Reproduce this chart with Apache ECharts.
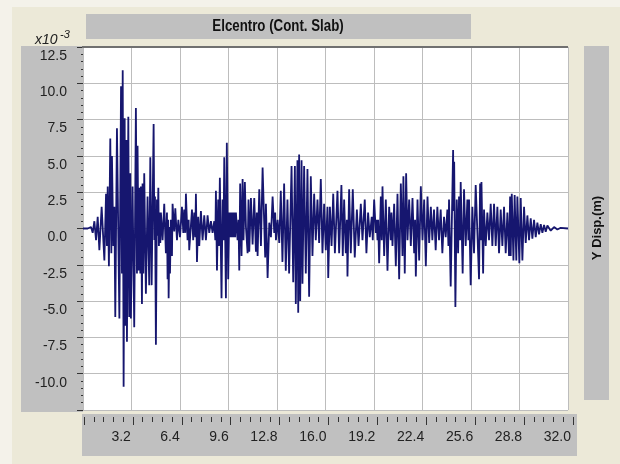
<!DOCTYPE html>
<html>
<head>
<meta charset="utf-8">
<script src="https://cdn.jsdelivr.net/npm/echarts@6/dist/echarts.min.js"></script>
<style>html,body{margin:0;padding:0;background:#F4F2EA}#c{width:620px;height:464px}</style>
</head>
<body>
<div id="c"></div>
<script>
// Time axis (s) and tick labels
const xTicks = [3.2, 6.4, 9.6, 12.8, 16.0, 19.2, 22.4, 25.6, 28.8, 32.0];
const yTicks = [12.5, 10.0, 7.5, 5.0, 2.5, 0.0, -2.5, -5.0, -7.5, -10.0];
const titleText = 'Elcentro (Cont. Slab)';
const yName = 'Y Disp.(m)';

// Displacement trace [time s, value x10^-3 m]
const segA = [[0,0],[0.31,0],[0.53,0.1],[0.64,-0.3],[0.75,0.5],[0.86,-0.8],[0.97,0.8],[1.08,-1.5],[1.23,1.5],[1.41,-2.2],[1.52,2.4],[1.58,-1.2],[1.63,2.9],[1.71,-2.6],[1.80,6.2],[1.87,-1.7],[1.91,5.0],[2.00,-1.2],[2.07,1.5],[2.13,-6.1],[2.24,6.9],[2.40,-6.2],[2.51,9.8],[2.57,-3.1],[2.62,10.9],[2.68,-10.9],[2.75,7.6],[2.79,-6.7],[2.86,6.1],[2.90,-7.8],[2.99,7.7],[3.05,-6.1],[3.12,3.8],[3.16,-6.2],[3.27,2.9],[3.38,-6.8],[3.49,8.3],[3.56,-3.1],[3.60,5.7],[3.67,-2.9],[3.71,2.8],[3.78,-3.1],[3.82,2.9],[3.89,-5.2],[3.93,3.1],[3.98,-3.1],[4.04,3.8],[4.15,-4.5],[4.26,2.2],[4.37,-3.9],[4.44,4.9],[4.53,-3.9],[4.66,7.2],[4.71,-0.8],[4.75,2.2],[4.81,-8.0],[4.88,2.0],[4.92,-0.5],[4.97,2.8],[5.01,-1.2],[5.05,1.1],[5.10,-1.0],[5.14,1.1],[5.25,-0.8],[5.36,1.7],[5.47,-1.7],[5.54,1.1],[5.58,-3.5],[5.62,0.6],[5.65,-4.8],[5.71,0.1],[5.74,-3.1],[5.80,0.6],[5.87,-1.9],[5.91,1.7],[6.02,-0.2],[6.09,1.4],[6.20,-0.8],[6.29,0.6],[6.40,-0.6],[6.53,1.5],[6.62,-0.3],[6.68,1.3],[6.75,-0.3],[6.79,2.4],[6.90,-0.8],[6.97,0.6],[7.01,-1.5],[7.19,1.3],[7.27,-0.8],[7.34,1.1],[7.41,-0.6],[7.45,2.4],[7.52,-2.3],[7.60,0.8],[7.67,-1.2],[7.78,1.2],[7.89,-0.8]];
const segB = [[8.00,0.9],[8.11,-0.8],[8.22,0.9],[8.33,-0.3],[8.44,0.5],[8.55,-0.3],[8.66,0.5],[8.73,-0.8],[8.77,2.6],[8.84,-2.9],[8.92,2.0],[8.97,-1.2],[9.03,3.5],[9.14,-4.8],[9.21,2.0],[9.27,-0.8],[9.32,4.9],[9.43,-4.8],[9.49,5.9],[9.58,-3.5],[9.65,1.1],[9.71,-0.6],[9.76,1.1],[9.82,-0.6],[9.87,1.1],[9.93,-0.6],[9.98,1.1],[10.04,-0.6],[10.09,1.1],[10.20,-0.8],[10.26,0.6],[10.31,-2.9],[10.37,3.1],[10.46,-1.9],[10.53,3.4],[10.59,-0.8],[10.68,3.2],[10.75,0.1],[10.86,-1.7],[10.92,2.0],[10.97,-1.6],[11.08,2.1],[11.19,-1.1],[11.30,2.1],[11.41,-1.6],[11.47,1.1],[11.52,-1.9],[11.63,2.7],[11.74,-1.2],[11.85,4.2],[12.02,-2.0],[12.07,1.7],[12.18,-3.4],[12.29,0.4],[12.40,-0.6],[12.51,2.2],[12.62,-0.3],[12.68,1.1],[12.73,-0.8],[12.84,0.6],[12.95,-1.0],[13.05,2.6],[13.16,-2.3],[13.27,3.1],[13.38,-2.9],[13.49,2.0],[13.60,-3.1],[13.76,4.3],[13.87,-3.7],[13.98,4.3],[14.04,-5.2],[14.15,4.7],[14.20,-5.8],[14.26,5.1],[14.33,-5.0],[14.42,4.7],[14.48,-3.8],[14.59,4.3],[14.70,-3.1],[14.81,4.1],[14.92,-4.7],[15.03,3.6],[15.14,-1.9],[15.25,2.4],[15.36,-0.8],[15.47,2.0],[15.58,-1.0],[15.69,3.4],[15.80,-1.7],[15.91,1.7]];
const segC = [[16.02,-1.5],[16.13,1.5],[16.18,-3.4],[16.29,1.5],[16.40,-1.2],[16.51,2.4],[16.62,-1.7],[16.79,2.6],[16.90,-1.7],[17.05,3.0],[17.14,-1.9],[17.23,2.0],[17.34,-1.7],[17.41,0.6],[17.45,-3.3],[17.56,2.7],[17.67,-1.7],[17.80,2.7],[17.93,-2.0],[18.07,1.3],[18.18,-1.2],[18.33,1.7],[18.44,-0.8],[18.59,2.0],[18.70,-1.7],[18.81,1.1],[18.92,-0.6],[19.05,0.8],[19.12,-0.8],[19.21,2.0],[19.32,-0.3],[19.38,0.6],[19.43,-0.8],[19.47,0.6],[19.54,-2.4],[19.65,2.2],[19.71,-0.8],[19.76,2.9],[19.87,-1.9],[19.98,2.0],[20.09,-2.9],[20.20,1.5],[20.31,-0.8],[20.35,1.1],[20.42,-1.2],[20.53,1.7],[20.64,-2.6],[20.75,2.4],[20.86,-3.5],[20.97,3.1],[21.08,-1.9],[21.14,3.6],[21.23,-3.1],[21.32,3.8],[21.41,-0.8],[21.52,2.0],[21.63,-1.2],[21.74,2.1],[21.85,-1.7],[21.91,0.6],[21.96,-3.3],[22.07,2.0],[22.18,-2.2],[22.29,2.9],[22.40,-0.8],[22.51,2.0],[22.62,-2.6],[22.73,2.2],[22.84,-1.0],[22.95,1.5],[23.05,-0.8],[23.16,1.3],[23.27,-1.5],[23.38,1.5],[23.49,-0.8],[23.60,1.3],[23.71,-1.7],[23.82,0.8],[23.93,-0.6]];
const segD = [[24.04,1.3],[24.11,-1.2],[24.15,2.0],[24.26,-4.0],[24.42,5.4],[24.45,1.2],[24.49,4.6],[24.57,-5.4],[24.66,2.0],[24.75,-1.7],[24.81,2.2],[24.88,-0.8],[24.92,3.2],[25.05,-3.1],[25.14,2.7],[25.25,-1.2],[25.36,2.0],[25.43,-0.8],[25.47,2.0],[25.58,-3.9],[25.69,1.5],[25.80,-1.7],[25.91,3.0],[26.13,-3.5],[26.20,3.1],[26.24,-0.8],[26.29,3.2],[26.40,-3.1],[26.46,1.3],[26.57,-1.2],[26.68,1.1],[26.79,-0.8],[26.90,1.7],[27.01,-1.2],[27.12,1.7],[27.23,-1.2],[27.34,1.5],[27.45,-1.7],[27.56,1.3],[27.67,-1.2],[27.78,1.5],[27.89,-1.7],[28.00,1.1],[28.11,-1.9],[28.18,2.2],[28.22,-1.9],[28.29,2.4],[28.40,-2.2],[28.48,2.3],[28.59,-2.2],[28.66,2.2],[28.79,-2.4],[28.88,2.1],[28.99,-2.2],[29.10,1.5],[29.21,-1.0],[29.32,0.9],[29.43,-0.8],[29.54,0.7],[29.65,-0.7],[29.76,0.6],[29.87,-0.6],[29.98,0.4],[30.09,-0.4],[30.20,0.3],[30.31,-0.3],[30.42,0.25],[30.53,-0.23],[30.64,0.2],[30.86,-0.15],[31.08,0.1],[31.30,-0.07],[31.52,0.05],[32.0,0]];

const trace = segA.concat(segB, segC, segD);

const FONT = "'Liberation Sans', Arial, sans-serif";
const chart = echarts.init(document.getElementById('c'), null, {renderer: 'canvas'});
chart.setOption({
  animation: false,
  backgroundColor: '#F4F2EA',
  graphic: [
    {type: 'rect', z: -20, shape: {x: 12, y: 7, width: 608, height: 457}, style: {fill: '#ECE9D8'}},
    {type: 'rect', z: -10, shape: {x: 86, y: 14, width: 385, height: 25}, style: {fill: '#C0C0C0'}},
    {type: 'rect', z: -10, shape: {x: 21, y: 46, width: 62, height: 366}, style: {fill: '#C0C0C0'}},
    {type: 'rect', z: -10, shape: {x: 82, y: 414, width: 495, height: 42}, style: {fill: '#C0C0C0'}},
    {type: 'rect', z: -10, shape: {x: 584, y: 46, width: 25, height: 354}, style: {fill: '#C0C0C0'}},
    {type: 'line', z: 50, shape: {x1: 82, y1: 47, x2: 568, y2: 47}, style: {stroke: '#707070', lineWidth: 2}},
    {type: 'text', z: 60, x: 278, y: 27, scaleX: 0.83, style: {text: titleText, fill: '#111', align: 'center', verticalAlign: 'middle',
      font: "bold 16px " + FONT}},
    {type: 'text', z: 60, x: 597, y: 228, rotation: Math.PI / 2, style: {text: yName, fill: '#111', align: 'center', verticalAlign: 'middle',
      font: "bold 13px " + FONT}},
    {type: 'text', z: 60, x: 35, y: 47, style: {text: 'x10', fill: '#222', align: 'left', verticalAlign: 'bottom', font: "italic 14px " + FONT}},
    {type: 'text', z: 60, x: 60, y: 40, style: {text: '-3', fill: '#222', align: 'left', verticalAlign: 'bottom', font: "italic 11px " + FONT}}
  ],
  grid: [
    {left: 83, right: 52, top: 47, bottom: 54, show: true, backgroundColor: '#FFFFFF', borderWidth: 0},
    {left: 84, right: 47, top: 47, bottom: 54, show: false}
  ],
  xAxis: [
    {type: 'value', gridIndex: 0, min: 0, max: 32, interval: 3.2,
      axisLine: {show: false, onZero: false}, axisTick: {show: false}, axisLabel: {show: false},
      splitLine: {show: true, lineStyle: {color: '#BDBDBD', width: 1}}},
    {type: 'value', gridIndex: 1, min: 0, max: 32, interval: 3.2, offset: 7, position: 'bottom',
      axisLine: {show: false, onZero: false},
      axisTick: {show: true, inside: false, length: 8, lineStyle: {color: '#333', width: 1}},
      minorTick: {show: true, splitNumber: 5, length: 5, lineStyle: {color: '#333', width: 1}},
      splitLine: {show: false},
      axisLabel: {show: true, margin: 13, align: 'right', padding: [0, 2, 0, 0], color: '#222', fontSize: 14, fontFamily: FONT,
        formatter: function (v) {
          const hit = xTicks.find(t => Math.abs(t - v) < 1e-6);
          return hit === undefined ? '' : hit.toFixed(1);
        }}}
  ],
  yAxis: [
    {type: 'value', gridIndex: 0, min: -12.5, max: 12.5, interval: 2.5,
      axisLine: {show: false, onZero: false},
      axisTick: {show: true, inside: false, length: 6, lineStyle: {color: '#333', width: 1}},
      minorTick: {show: true, splitNumber: 5, length: 2, lineStyle: {color: '#333', width: 1}},
      splitLine: {show: true, lineStyle: {color: '#BDBDBD', width: 1}},
      axisLabel: {show: true, margin: 16, verticalAlign: 'top', padding: [2, 0, 0, 0], color: '#222', fontSize: 14, fontFamily: FONT,
        formatter: function (v) {
          const hit = yTicks.find(t => Math.abs(t - v) < 1e-6);
          return hit === undefined ? '' : hit.toFixed(1);
        }}},
    {type: 'value', gridIndex: 1, min: -12.5, max: 12.5, show: false}
  ],
  series: [{
    type: 'line', xAxisIndex: 0, yAxisIndex: 0, data: trace, showSymbol: false, symbol: 'none',
    clip: true, lineStyle: {color: '#16166F', width: 1.8}, z: 3
  }]
});
</script>
</body>
</html>
